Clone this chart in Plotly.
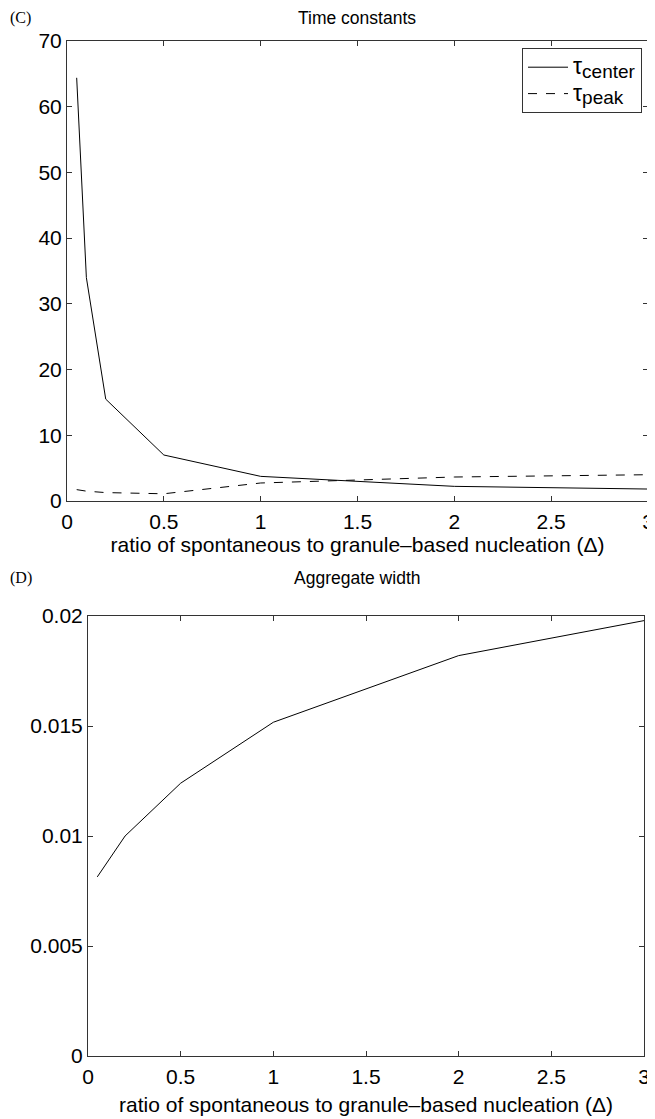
import plotly.graph_objects as go

# Data
delta = [0.05, 0.1, 0.2, 0.5, 1.0, 2.0, 3.0]
tau_center = [64.4, 34.0, 15.5, 7.0, 3.75, 2.23, 1.82]
tau_peak = [1.73, 1.5, 1.28, 1.1, 2.74, 3.65, 4.0]
agg_width = [0.00814, 0.00875, 0.0100, 0.0124, 0.01517, 0.0182, 0.01979]

x_ticks = [0, 0.5, 1, 1.5, 2, 2.5, 3]
x_ticktext = ["0", "0.5", "1", "1.5", "2", "2.5", "3"]
y1_ticks = [0, 10, 20, 30, 40, 50, 60, 70]
y2_ticks = [0, 0.005, 0.01, 0.015, 0.02]
y2_ticktext = ["0", "0.005", "0.01", "0.015", "0.02"]

OFF = 8  # page body margin
W, H = 655 - OFF, 1119 - OFF
FONT = "Liberation Sans, Arial, sans-serif"
SERIF = "Liberation Serif, Times New Roman, serif"


def px(x):
    return (x - OFF) / W


def py(y):
    return 1 - (y - OFF) / H


def legend_name(sub):
    return ("<span style='font-size:23px'>τ</span>"
            "<sub><span style='font-size:19px'>" + sub + "</span></sub>")


fig = go.Figure()
fig.add_trace(go.Scatter(x=delta, y=tau_center, mode="lines", name=legend_name("center"),
                         line=dict(color="black", width=1), xaxis="x", yaxis="y"))
fig.add_trace(go.Scatter(x=delta, y=tau_peak, mode="lines", name=legend_name("peak"),
                         line=dict(color="black", width=1, dash="dash"), xaxis="x", yaxis="y"))
fig.add_trace(go.Scatter(x=delta, y=agg_width, mode="lines", showlegend=False,
                         line=dict(color="black", width=1), xaxis="x2", yaxis="y2"))

axis_common = dict(showline=True, linecolor="#333", linewidth=1, mirror="ticks",
                   ticks="inside", ticklen=5, tickcolor="#333", showgrid=False, zeroline=False,
                   automargin=False,
                   tickfont=dict(family=FONT, size=21, color="black"))

xtitle = "ratio of spontaneous to granule\u2013based nucleation (Δ)"

fig.update_layout(
    width=W, height=H,
    margin=dict(l=0, r=0, t=0, b=0),
    paper_bgcolor="white", plot_bgcolor="white",
    xaxis=dict(domain=[px(67), px(648)], range=[0, 3], tickvals=x_ticks, ticktext=x_ticktext,
               anchor="y", ticklabelstandoff=2,
               title=dict(text=xtitle, font=dict(family=FONT, size=21, color="black"), standoff=4),
               **axis_common),
    yaxis=dict(domain=[py(501), py(41)], range=[0, 70], tickvals=y1_ticks, anchor="x",
               **axis_common),
    xaxis2=dict(domain=[px(88), px(644)], range=[0, 3], tickvals=x_ticks, ticktext=x_ticktext,
                anchor="y2", ticklabelstandoff=2,
                title=dict(text=xtitle, font=dict(family=FONT, size=21, color="black"), standoff=10),
                **axis_common),
    yaxis2=dict(domain=[py(1056), py(616)], range=[0, 0.02], tickvals=y2_ticks,
                ticktext=y2_ticktext, anchor="x2", **axis_common),
    legend=dict(x=px(642), y=py(48), xanchor="right", yanchor="top",
                bgcolor="white", bordercolor="#333", borderwidth=1, itemwidth=40,
                font=dict(family=FONT, size=18, color="black"), tracegroupgap=0),
    annotations=[
        dict(text="Time constants", x=px(357), y=py(18), xref="paper", yref="paper",
             yanchor="middle", showarrow=False, font=dict(family=FONT, size=17.5, color="black")),
        dict(text="Aggregate width", x=px(357), y=py(578), xref="paper", yref="paper",
             yanchor="middle", showarrow=False, font=dict(family=FONT, size=17.5, color="black")),
        dict(text="(C)", x=0, y=py(18), xref="paper", yref="paper", xanchor="left",
             yanchor="middle", showarrow=False, font=dict(family=SERIF, size=16, color="black")),
        dict(text="(D)", x=0, y=py(578), xref="paper", yref="paper", xanchor="left",
             yanchor="middle", showarrow=False, font=dict(family=SERIF, size=16, color="black")),
    ],
)

fig.write_html("out.html")
